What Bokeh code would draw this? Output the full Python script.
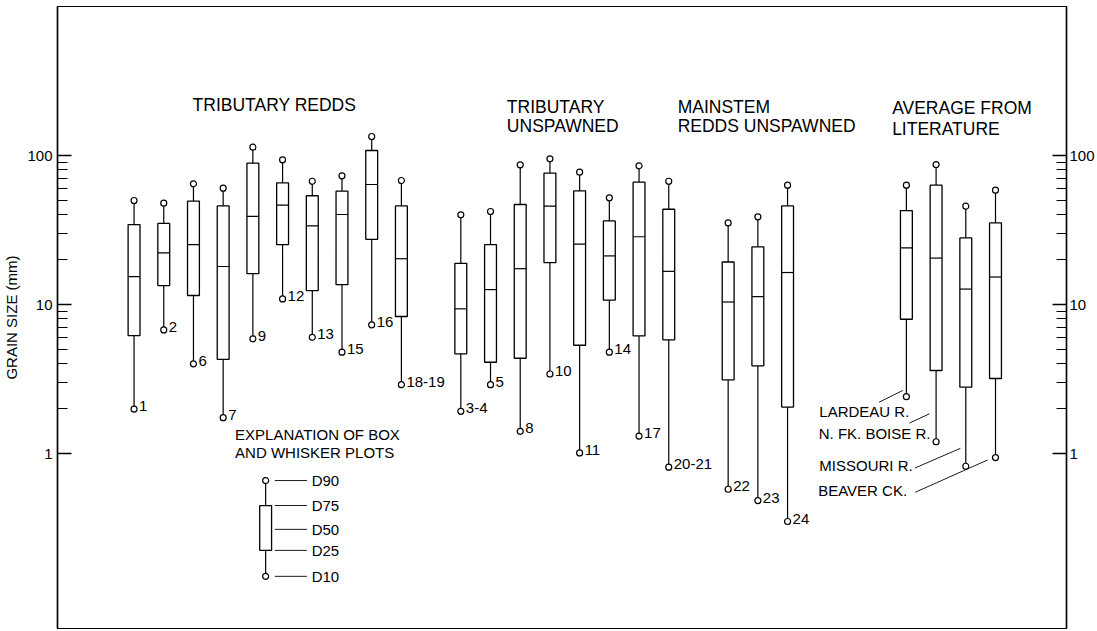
from bokeh.plotting import figure
from bokeh.models import Range1d, LogAxis, FixedTicker, PrintfTickFormatter
from bokeh.core.properties import value
from bokeh.embed import file_html
from bokeh.resources import INLINE

# ---------------- data (grain size percentiles, mm) ----------------
redd_labels = ["1", "2", "6", "7", "9", "12", "13", "15", "16", "18-19"]
redd_d10 = [1.99, 6.76, 4.0, 1.74, 5.89, 10.9, 6.03, 4.79, 7.31, 2.90]
redd_d25 = [6.19, 13.4, 11.5, 4.29, 16.1, 25.2, 12.4, 13.6, 27.4, 8.31]
redd_d50 = [15.4, 22.2, 25.2, 18.0, 39.0, 46.4, 33.7, 40.2, 63.9, 20.3]
redd_d75 = [34.4, 35.0, 49.4, 45.9, 88.8, 65.6, 53.7, 57.6, 108.1, 45.9]
redd_d90 = [49.9, 47.9, 64.6, 60.4, 113.7, 93.5, 67.2, 73.1, 134.2, 68.0]

unsp_labels = ["3-4", "5", "8", "10", "11", "14", "17", "20-21"]
unsp_d10 = [1.92, 2.90, 1.41, 3.42, 1.01, 4.79, 1.31, 0.81]
unsp_d25 = [4.67, 4.10, 4.36, 19.1, 5.33, 10.7, 6.16, 5.80]
unsp_d50 = [9.36, 12.6, 17.4, 45.7, 25.4, 21.2, 28.5, 16.7]
unsp_d75 = [18.9, 25.2, 46.9, 76.1, 57.9, 36.4, 66.2, 43.6]
unsp_d90 = [40.0, 42.1, 86.6, 95.0, 77.3, 52.0, 85.3, 67.2]

main_labels = ["22", "23", "24"]
main_d10 = [0.576, 0.484, 0.35]
main_d25 = [3.12, 3.88, 2.05]
main_d50 = [10.4, 11.3, 16.4]
main_d75 = [19.3, 24.4, 45.9]
main_d90 = [35.3, 38.8, 63.2]

lit_labels = ["LARDEAU R.", "N. FK. BOISE R.", "MISSOURI R.", "BEAVER CK."]
lit_d10 = [2.41, 1.20, 0.822, 0.94]
lit_d25 = [7.97, 3.61, 2.79, 3.19]
lit_d50 = [24.0, 20.5, 12.7, 15.3]
lit_d75 = [42.7, 63.2, 28.0, 35.3]
lit_d90 = [63.2, 87.0, 45.7, 58.5]

# explanation (schematic) box
expl_labels = ["D10", "D25", "D50", "D75", "D90"]
expl_values = [0.15, 0.224, 0.31, 0.448, 0.659]

y_major = [1, 10, 100]
y_minor = [2, 3, 4, 5, 6, 7, 8, 9, 20, 30, 40, 50, 60, 70, 80, 90]

# ---------------- layout constants ----------------
FONT = "Liberation Sans"
group_start = [1, 12, 21, 27]
BOX_W = 0.40

p = figure(width=1097, height=631, y_axis_type="log",
           x_range=Range1d(-1.577, 32.39), y_range=Range1d(0.067, 1000),
           output_backend="svg", toolbar_location=None,
           min_border_top=6, min_border_bottom=3, min_border_right=0, min_border_left=0)
p.xaxis.visible = False
p.xgrid.visible = False
p.ygrid.visible = False
p.outline_line_color = "black"
p.outline_line_width = 1.2
p.background_fill_color = "white"
p.border_fill_color = "white"

ticker = FixedTicker(ticks=y_major, minor_ticks=y_minor)
fmt = PrintfTickFormatter(format="%d")


def style_axis(ax, standoff):
    ax.ticker = ticker
    ax.formatter = fmt
    ax.axis_line_color = "black"
    ax.axis_line_width = 1.5
    ax.major_tick_in = 14
    ax.major_tick_out = 0
    ax.minor_tick_in = 10
    ax.minor_tick_out = 0
    ax.major_tick_line_width = 1.5
    ax.minor_tick_line_width = 1
    ax.major_tick_line_color = "black"
    ax.minor_tick_line_color = "black"
    ax.major_label_text_font = FONT
    ax.major_label_text_font_size = "15px"
    ax.major_label_text_color = "black"
    ax.major_label_standoff = standoff


yl = p.yaxis[0]
style_axis(yl, 5)
yl.axis_label = "GRAIN SIZE (mm)"
yl.axis_label_text_font = FONT
yl.axis_label_text_font_size = "15px"
yl.axis_label_text_font_style = "normal"
yl.axis_label_text_color = "black"
yl.axis_label_standoff = 4

yr = LogAxis()
style_axis(yr, 3)
p.add_layout(yr, "right")

groups = [
    (redd_labels, redd_d10, redd_d25, redd_d50, redd_d75, redd_d90),
    (unsp_labels, unsp_d10, unsp_d25, unsp_d50, unsp_d75, unsp_d90),
    (main_labels, main_d10, main_d25, main_d50, main_d75, main_d90),
    (lit_labels, lit_d10, lit_d25, lit_d50, lit_d75, lit_d90),
]

for gi, (labs, d10, d25, d50, d75, d90) in enumerate(groups):
    xs = [group_start[gi] + i for i in range(len(labs))]
    p.segment(x0=xs, y0=d75, x1=xs, y1=d90, line_color="black", line_width=1.2)
    p.segment(x0=xs, y0=d10, x1=xs, y1=d25, line_color="black", line_width=1.2)
    p.vbar(x=xs, bottom=d25, top=d75, width=BOX_W, fill_color="white",
           line_color="black", line_width=1.3)
    p.segment(x0=[x - BOX_W / 2 for x in xs], y0=d50, x1=[x + BOX_W / 2 for x in xs], y1=d50,
              line_color="black", line_width=1.2)
    p.scatter(x=xs, y=d90, marker="circle", size=6, fill_color="white",
              line_color="black", line_width=1.2)
    p.scatter(x=xs, y=d10, marker="circle", size=6, fill_color="white",
              line_color="black", line_width=1.2)
    if gi < 3:
        p.text(x=xs, y=d10, text=labs, x_offset=5, y_offset=-3, text_baseline="middle",
               text_align="left", text_font=value(FONT), text_font_size="15px",
               text_color="black")

# literature labels with leader lines
lit_text_x = [24.07, 24.05, 24.07, 24.03]
lit_text_y = [1.92, 1.37, 0.831, 0.565]
p.text(x=lit_text_x, y=lit_text_y, text=lit_labels, text_baseline="middle", text_align="left",
       text_font=value(FONT), text_font_size="15px", text_color="black")
lead_x0 = [26.08, 27.10, 27.29, 27.30]
lead_y0 = [2.21, 1.60, 0.80, 0.55]
lead_x1 = [26.88, 27.78, 28.82, 29.74]
lead_y1 = [2.65, 1.85, 1.085, 0.907]
p.segment(x0=lead_x0, y0=lead_y0, x1=lead_x1, y1=lead_y1, line_color="black", line_width=0.9)

# group headings
head_text = ["TRIBUTARY REDDS", "TRIBUTARY", "UNSPAWNED", "MAINSTEM", "REDDS UNSPAWNED",
             "AVERAGE FROM", "LITERATURE"]
head_x = [2.97, 13.55, 13.55, 19.30, 19.30, 26.52, 26.52]
head_y = [218, 211.6, 156.6, 211.6, 156.6, 208, 150.6]
p.text(x=head_x, y=head_y, text=head_text, text_baseline="middle", text_align="left",
       text_font=value(FONT), text_font_size="17.5px", text_color="black")

# explanation of box and whisker plots
p.text(x=[4.40, 4.40], y=[1.34, 1.01], text=["EXPLANATION OF BOX", "AND WHISKER PLOTS"],
       text_baseline="middle", text_align="left", text_font=value(FONT),
       text_font_size="15px", text_color="black")
ex = 5.43
p.segment(x0=[ex, ex], y0=[expl_values[0], expl_values[3]], x1=[ex, ex],
          y1=[expl_values[1], expl_values[4]], line_color="black", line_width=1.2)
p.vbar(x=[ex], bottom=[expl_values[1]], top=[expl_values[3]], width=BOX_W,
       fill_color="white", line_color="black", line_width=1.3)
p.scatter(x=[ex, ex], y=[expl_values[0], expl_values[4]], marker="circle", size=6,
          fill_color="white", line_color="black", line_width=1.2)
n = len(expl_values)
p.segment(x0=[5.74] * n, y0=expl_values, x1=[6.82] * n, y1=expl_values,
          line_color="black", line_width=0.9)
p.text(x=[6.98] * n, y=expl_values, text=expl_labels, text_baseline="middle",
       text_align="left", text_font=value(FONT), text_font_size="15px", text_color="black")

open("out.html", "w").write(file_html(p, INLINE))
